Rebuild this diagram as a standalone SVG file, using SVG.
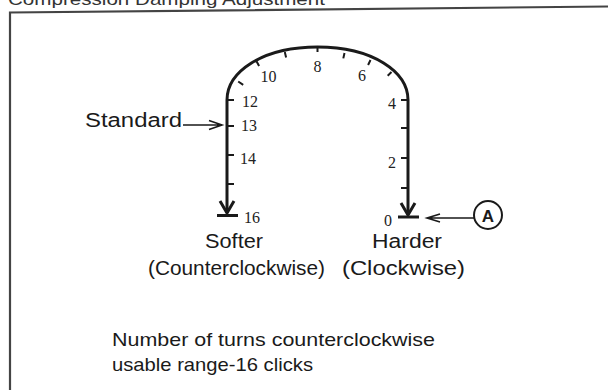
<svg xmlns="http://www.w3.org/2000/svg" width="608" height="390" viewBox="0 0 608 390">
<style>
.ln{fill:none;stroke:#1a1a1a;stroke-width:3;stroke-linecap:butt}
.tk{fill:none;stroke:#1a1a1a;stroke-width:2}
.thin{fill:none;stroke:#1a1a1a;stroke-width:1.6}
.num{font-family:"Liberation Serif",serif;font-size:16px;fill:#222}
.lbl{font-family:"Liberation Sans",Arial,sans-serif;font-size:20px;fill:#1a1a1a}
.note{font-family:"Liberation Sans",Arial,sans-serif;font-size:19px;fill:#1a1a1a}
</style>
<rect width="608" height="390" fill="#fff"/>
<g id="frame">
<text x="8" y="5" font-family="Liberation Sans,Arial,sans-serif" font-size="17" fill="#333" textLength="317" lengthAdjust="spacingAndGlyphs">Compression Damping Adjustment</text>
<path d="M10,390 V12.5 L608,6.5" fill="none" stroke="#444" stroke-width="2.2"/>
</g>
<g id="scale">
<path class="ln" d="M227,213 V100 C227,72 262,47 317.5,47 C373,47 408,72 408,100 V215"/>
<g class="tk">
<path d="M227,100 h7 M227,126 h7 M227,155 h7 M227,184 h7"/>
<path d="M408,100 h-7 M408,128 h-7 M408,158 h-7 M408,188 h-7"/>
<path d="M238.2,81.5 l5,3.3 M256.5,61.2 l2.6,4.8 M284.8,52 l1.3,5.4 M317.5,46 v6 M344.5,53 l-1.2,5.4 M370.5,60 l-2.4,5 M391.5,72 l-3.8,3.8"/>
</g>
<path class="ln" d="M220,201 L227,213 L234,201"/>
<path class="ln" d="M217,215.5 H238"/>
<path class="ln" d="M401,203 L408,215 L415,203"/>
<path class="ln" d="M398,217 H419"/>
<text class="num" x="268.5" y="82" text-anchor="middle">10</text>
<text class="num" x="317.5" y="72" text-anchor="middle">8</text>
<text class="num" x="362" y="80.5" text-anchor="middle">6</text>
<text class="num" x="250" y="107" text-anchor="middle">12</text>
<text class="num" x="249" y="130.5" text-anchor="middle">13</text>
<text class="num" x="248" y="163.5" text-anchor="middle">14</text>
<text class="num" x="252" y="223" text-anchor="middle">16</text>
<text class="num" x="392" y="108.5" text-anchor="middle">4</text>
<text class="num" x="392" y="167.5" text-anchor="middle">2</text>
<text class="num" x="388" y="225.5" text-anchor="middle">0</text>
</g>
<g id="standard">
<text class="lbl" x="85" y="127" font-size="18" textLength="97" lengthAdjust="spacingAndGlyphs">Standard</text>
<path class="thin" d="M183,125 H222 M209,120.5 L222,125 L209,129.5"/>
</g>
<g id="softer">
<text class="lbl" x="234" y="248" text-anchor="middle" textLength="58" lengthAdjust="spacingAndGlyphs">Softer</text>
<text class="lbl" x="236.5" y="275" text-anchor="middle" textLength="177" lengthAdjust="spacingAndGlyphs">(Counterclockwise)</text>
</g>
<g id="harder">
<text class="lbl" x="407" y="248" text-anchor="middle" textLength="70" lengthAdjust="spacingAndGlyphs">Harder</text>
<text class="lbl" x="403.5" y="275" text-anchor="middle" textLength="123" lengthAdjust="spacingAndGlyphs">(Clockwise)</text>
</g>
<g id="callout-a">
<circle cx="488" cy="215" r="14" fill="none" stroke="#1a1a1a" stroke-width="2"/>
<text x="488" y="221.5" text-anchor="middle" font-family="Liberation Sans,Arial,sans-serif" font-size="17" font-weight="bold" fill="#1a1a1a">A</text>
<path class="thin" d="M474,218 H427 M440,214 L427,218 L440,222"/>
</g>
<g id="note">
<text class="note" x="112" y="346" textLength="323" lengthAdjust="spacingAndGlyphs">Number of turns counterclockwise</text>
<text class="note" x="112" y="371" textLength="201" lengthAdjust="spacingAndGlyphs">usable range-16 clicks</text>
</g>
</svg>
